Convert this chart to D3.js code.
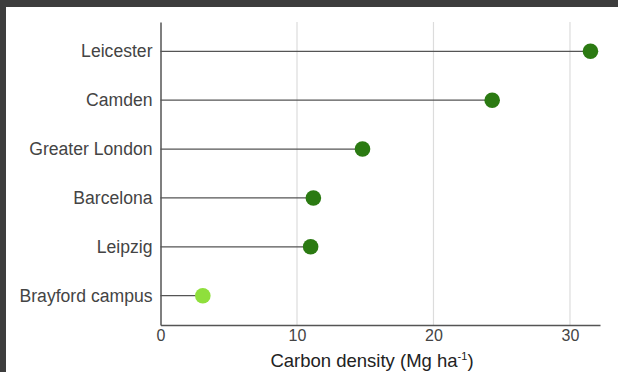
<!DOCTYPE html>
<html><head><meta charset="utf-8">
<script src="https://cdn.jsdelivr.net/npm/d3@7"></script>
<style>
html,body{margin:0;padding:0;background:#3d3d3d;}
svg{display:block;}
</style></head>
<body>
<script>
const categories = ["Leicester","Camden","Greater London","Barcelona","Leipzig","Brayford campus"];
const values = [31.5, 24.3, 14.8, 11.2, 11.0, 3.1];
const highlight = ["Brayford campus"];
const xTicks = [0,10,20,30];
const xTitle = "Carbon density (Mg ha";

(function(){
const W=618,H=372;
const svg=d3.select("body").append("svg").attr("width",W).attr("height",H);
svg.append("rect").attr("x",6).attr("y",7).attr("width",W-6).attr("height",H-7).attr("fill","#fff");

const mL=160.5, mR=600, mT=22, mB=325;
const x=d3.scaleLinear().domain([0,32.2]).range([mL,mR]);
const y=d3.scalePoint().domain(categories).range([mT,mB]).padding(0.6);
const ff="Liberation Sans, Arial, Helvetica, sans-serif";

// grid
svg.append("g").selectAll("line").data(xTicks.filter(d=>d>0)).join("line")
  .attr("x1",d=>x(d)).attr("x2",d=>x(d)).attr("y1",mT).attr("y2",mB)
  .attr("stroke","#dcdcdc").attr("stroke-width",1.2);

// x axis
const xa=svg.append("g").attr("transform",`translate(0,${mB})`)
  .call(d3.axisBottom(x).tickValues(xTicks).tickSize(0).tickPadding(5));
xa.select(".domain").attr("stroke","#555").attr("stroke-width",1.5);
xa.selectAll("text").attr("font-family",ff).attr("font-size",16).attr("fill","#444");

// y axis
const ya=svg.append("g").attr("transform",`translate(${mL},0)`)
  .call(d3.axisLeft(y).tickSize(0).tickPadding(8));
ya.select(".domain").attr("stroke","#555").attr("stroke-width",1.5);
ya.selectAll("text").attr("font-family",ff).attr("font-size",17.6).attr("fill","#444");

// stems
svg.append("g").selectAll("line").data(categories).join("line")
  .attr("x1",x(0)).attr("x2",(d,i)=>x(values[i]))
  .attr("y1",d=>y(d)).attr("y2",d=>y(d))
  .attr("stroke","#555").attr("stroke-width",1.3);

// dots
svg.append("g").selectAll("circle").data(categories).join("circle")
  .attr("cx",(d,i)=>x(values[i])).attr("cy",d=>y(d)).attr("r",7.8)
  .attr("fill",d=>highlight.includes(d)?"#8fdf3c":"#2b7a12");

// title
const t=svg.append("text").attr("x",372).attr("y",367)
  .attr("text-anchor","middle").attr("font-family",ff)
  .attr("font-size",18.5).attr("fill","#222");
t.append("tspan").text(xTitle);
t.append("tspan").attr("dy",-7).attr("font-size",11).text("-1");
t.append("tspan").attr("dy",7).text(")");
})();
</script>
</body></html>
